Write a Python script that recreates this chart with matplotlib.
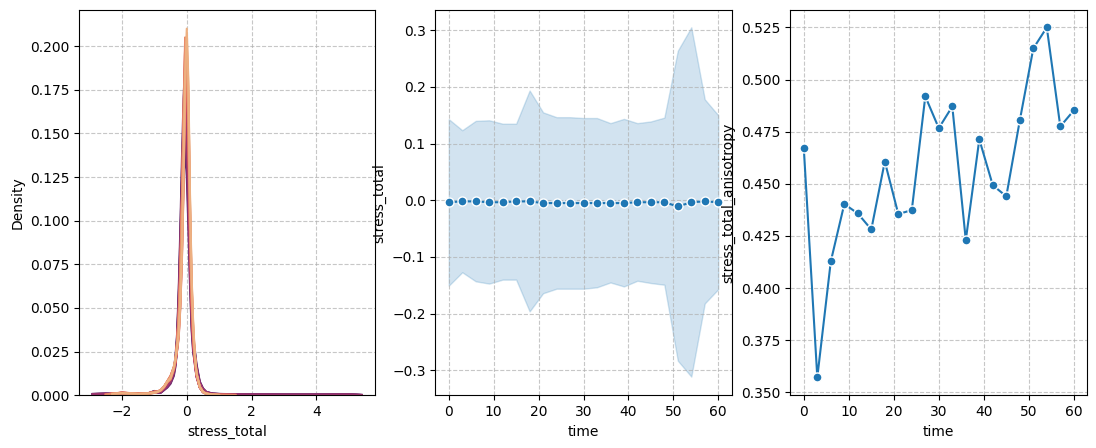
import numpy as np
import matplotlib
matplotlib.use("Agg")
import matplotlib.pyplot as plt
import seaborn as sns

# ---------------- data ----------------
time = [0, 3, 6, 9, 12, 15, 18, 21, 24, 27, 30, 33, 36, 39, 42, 45, 48, 51, 54, 57, 60]

# panel 2: mean stress_total and band (lower / upper)
stress_mean = [-0.0035, -0.002, -0.002, -0.0035, -0.0035, -0.002, -0.002, -0.005, -0.005,
               -0.005, -0.005, -0.005, -0.005, -0.005, -0.0035, -0.0035, -0.0035, -0.011,
               -0.0035, -0.002, -0.0035]
stress_upper = [0.143, 0.1235, 0.140, 0.141, 0.135, 0.135, 0.1935, 0.155, 0.1465, 0.1465,
                0.145, 0.145, 0.136, 0.1435, 0.136, 0.139, 0.1457, 0.2638, 0.305, 0.178, 0.150]
stress_lower = [-0.1506, -0.127, -0.143, -0.147, -0.140, -0.140, -0.196, -0.164, -0.156,
                -0.156, -0.156, -0.1535, -0.145, -0.152, -0.142, -0.146, -0.149, -0.283,
                -0.311, -0.182, -0.157]

# panel 3: anisotropy
anisotropy = [0.467, 0.3572, 0.4128, 0.4403, 0.4358, 0.4281, 0.4607, 0.4355, 0.4374, 0.4919,
              0.4767, 0.4871, 0.4230, 0.4713, 0.4493, 0.4440, 0.4804, 0.5149, 0.525, 0.4775,
              0.4852]

# panel 1: KDE density curves (shared x grid, three read-off profiles)
kde_x = [-2.9, -2.5, -2.3, -2.0, -1.7, -1.5, -1.2, -1.0, -0.9, -0.8, -0.7, -0.6, -0.5, -0.4,
         -0.35, -0.3, -0.25, -0.2, -0.15, -0.1, -0.05, 0.0, 0.05, 0.1, 0.15, 0.2, 0.25, 0.3,
         0.4, 0.5, 0.6, 0.8, 1.0, 1.5, 2.0, 3.0, 4.0, 5.0, 5.4]
nan = float("nan")
kde_dark = [0.0008, 0.001, 0.0009, 0.0008, 0.0008, 0.0008, 0.001, 0.0025, 0.002, 0.002, 0.004,
            0.006, 0.009, 0.015, 0.022, 0.035, 0.06, 0.095, 0.135, 0.17, 0.19, 0.17, 0.13,
            0.085, 0.05, 0.032, 0.026, 0.018, 0.008, 0.004, 0.002, 0.001, 0.0008, 0.0006,
            0.0005, 0.0004, 0.0004, 0.0005, 0.0002]
kde_mid = [nan, 0.0004, 0.001, 0.0015, 0.0012, 0.001, 0.0012, 0.002, 0.0022, 0.003, 0.005,
           0.008, 0.011, 0.016, 0.02, 0.03, 0.045, 0.07, 0.11, 0.16, 0.2, 0.195, 0.15, 0.095,
           0.055, 0.032, 0.02, 0.012, 0.005, 0.002, 0.001, 0.0005, 0.0003, 0.0002, nan, nan,
           nan, nan, nan]
kde_light = [nan, nan, 0.0008, 0.0012, 0.001, 0.0008, 0.001, 0.0015, 0.002, 0.003, 0.005,
             0.008, 0.010, 0.016, 0.021, 0.028, 0.036, 0.055, 0.085, 0.13, 0.185, 0.21, 0.18,
             0.115, 0.068, 0.04, 0.024, 0.013, 0.005, 0.002, 0.001, 0.0004, 0.0002, nan, nan,
             nan, nan, nan, nan]
kde_profile = ["light", "light", "light", "mid", "light", "mid", "light", "mid", "mid", "mid",
               "mid", "mid", "mid", "dark", "mid", "dark", "dark", "dark", "dark", "dark", "dark"]
kde_peak = [0.21, 0.205, 0.20, 0.205, 0.195, 0.20, 0.19, 0.20, 0.195, 0.19, 0.185, 0.19, 0.18,
            0.17, 0.175, 0.16, 0.15, 0.19, 0.14, 0.17, 0.18]

# ---------------- plot ----------------
W, H = 1096, 448
fig = plt.figure(figsize=(W / 100, H / 100), dpi=100)

def axes_px(x0, x1, y0, y1):
    return fig.add_axes([x0 / W, 1 - y1 / H, (x1 - x0) / W, (y1 - y0) / H])

ax1 = axes_px(79.3, 375.3, 10.3, 395.3)
ax2 = axes_px(435.3, 731.7, 10.3, 395.3)
ax3 = axes_px(790.3, 1087.3, 10.3, 395.3)

profiles = {"dark": np.array(kde_dark), "mid": np.array(kde_mid), "light": np.array(kde_light)}
cmap = sns.color_palette("flare", as_cmap=True)
tmin, tmax = min(time), max(time)
# seaborn draws hue levels in reverse order: last level first
for t, prof, pk in reversed(list(zip(time, kde_profile, kde_peak))):
    y = profiles[prof] * pk / np.nanmax(profiles[prof])
    ax1.plot(kde_x, y, color=cmap((t - tmin) / (tmax - tmin)), lw=1.5)
ax1.set_xticks([-2, 0, 2, 4])
ax1.set_xlim(-3.315, 5.815)
ax1.set_ylim(0, 0.2205)
ax1.set_yticks([0, 0.025, 0.05, 0.075, 0.1, 0.125, 0.15, 0.175, 0.2])
ax1.set_xlabel("stress_total")
ax1.set_ylabel("Density")

c0 = "#1f77b4"
ax2.fill_between(time, stress_lower, stress_upper, color=c0, alpha=0.2, linewidth=1)
ax2.plot(time, stress_mean, color=c0, marker="o", markeredgecolor="white", lw=1.5, ms=6.5)
ax2.set_xticks([0, 10, 20, 30, 40, 50, 60])
ax2.set_xlim(-3, 63)
ax2.set_ylim(-0.344, 0.335)
ax2.set_yticks([-0.3, -0.2, -0.1, 0.0, 0.1, 0.2, 0.3])
ax2.set_xlabel("time")
ax2.set_ylabel("stress_total")

ax3.plot(time, anisotropy, color=c0, marker="o", markeredgecolor="white", lw=1.5, ms=6.5)
ax3.set_xticks([0, 10, 20, 30, 40, 50, 60])
ax3.set_xlim(-3, 63)
ax3.set_ylim(0.3486, 0.5332)
ax3.set_yticks([0.35, 0.375, 0.4, 0.425, 0.45, 0.475, 0.5, 0.525])
ax3.set_xlabel("time")
ax3.set_ylabel("stress_total_anisotropy")

for ax in (ax1, ax2, ax3):
    ax.grid(True, linestyle="--", alpha=0.7)

fig.savefig("out.png", dpi=100)
